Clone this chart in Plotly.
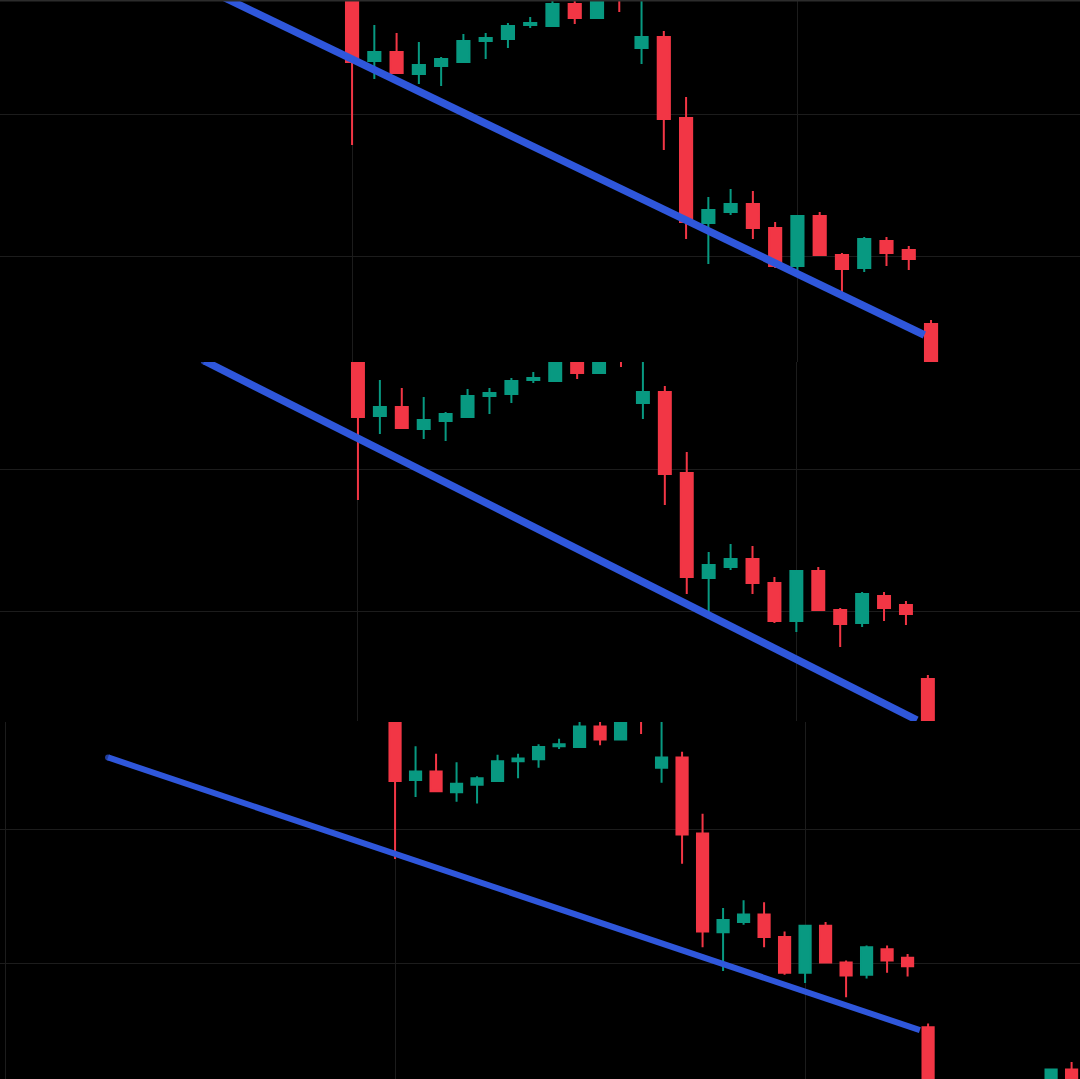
import plotly.graph_objects as go
from plotly.subplots import make_subplots

# ---- data (candle index, OHLC prices) ----
idx = list(range(34))
opens = [430, 339, 348, 326, 334, 338, 359, 361, 375, 374, 396, 382, 414, 352, 363, 282, 177,
         188, 196, 172, 134, 184, 145, 132, 159, 150, 76, 5, -15, -5, -20, 5, 15, 31]
highs = [435, 375, 367, 358, 343, 366, 367, 377, 383, 402, 402, 406, 418, 410, 369, 303, 203,
         211, 209, 178, 185, 188, 147, 163, 163, 154, 80, 12, 0, 2, 10, 18, 32, 39]
lows = [255, 321, 326, 316, 314, 337, 341, 352, 372, 373, 376, 381, 388, 336, 250, 161, 136,
        185, 161, 132, 123, 144, 108, 128, 134, 130, -10, -25, -20, -28, -22, -10, 10, 5]
closes = [338, 348, 327, 335, 341, 359, 362, 374, 377, 396, 382, 402, 404, 363, 281, 178, 190,
          196, 172, 134, 184, 145, 131, 161, 147, 141, 5, -15, -5, -20, 5, 15, 31, 10]

# trendlines (candle index, price) per panel
trend_x = [[-7, 25.7], [-7, 25.5], [-14.0, 25.6]]
trend_y = [[416, 65], [394, 35], [363, 73]]

# view windows per panel (candle index range, price range)
x_ranges = [[-15.81, 32.69], [-16.33, 32.94], [-19.27, 33.41]]
y_ranges = [[38, 400], [34, 393], [21, 400.7]]

grid_x = [-19, 0, 20]
grid_y = [286, 144]

UP = "#089981"
DOWN = "#F23645"
BLUE = "#2F57DB"
GRID = "#1c1c1c"

fig = make_subplots(rows=3, cols=1, vertical_spacing=0.0)

line_w = [7.5, 7.5, 6]
for r in range(3):
    fig.add_trace(go.Candlestick(
        x=idx, open=opens, high=highs, low=lows, close=closes,
        increasing=dict(line=dict(color=UP, width=2), fillcolor=UP),
        decreasing=dict(line=dict(color=DOWN, width=2), fillcolor=DOWN),
        whiskerwidth=0, hoverinfo="skip", showlegend=False,
    ), row=r + 1, col=1)
    fig.add_trace(go.Scatter(
        x=trend_x[r], y=trend_y[r], mode="lines+markers",
        line=dict(color=BLUE, width=line_w[r]),
        marker=dict(size=[line_w[r], 0], color=BLUE, line=dict(width=0)),
        hoverinfo="skip", showlegend=False,
    ), row=r + 1, col=1)

H = 1079.0
domains = [[(H - 362) / H, 1.0], [(H - 721) / H, (H - 362) / H], [0.0, (H - 722) / H]]

for r in range(3):
    xa = "xaxis" if r == 0 else f"xaxis{r + 1}"
    ya = "yaxis" if r == 0 else f"yaxis{r + 1}"
    fig.layout[xa].update(range=x_ranges[r], tickvals=grid_x, showticklabels=False,
                          showgrid=True, gridcolor=GRID, gridwidth=1, zeroline=False,
                          showline=False, rangeslider=dict(visible=False), fixedrange=True,
                          domain=[0, 1])
    fig.layout[ya].update(range=y_ranges[r], tickvals=grid_y, showticklabels=False,
                          showgrid=True, gridcolor=GRID, gridwidth=1, zeroline=False,
                          showline=False, domain=domains[r], fixedrange=True)

fig.add_shape(type="line", xref="paper", yref="paper", x0=0, x1=1, y0=1, y1=1,
              line=dict(color="#2c2c2c", width=3))

fig.update_layout(
    width=1080, height=1079,
    margin=dict(l=0, r=0, t=0, b=0),
    paper_bgcolor="#000000", plot_bgcolor="#000000",
    boxgap=0.22, showlegend=False,
)

fig.write_html("out.html", config={"displayModeBar": False})
